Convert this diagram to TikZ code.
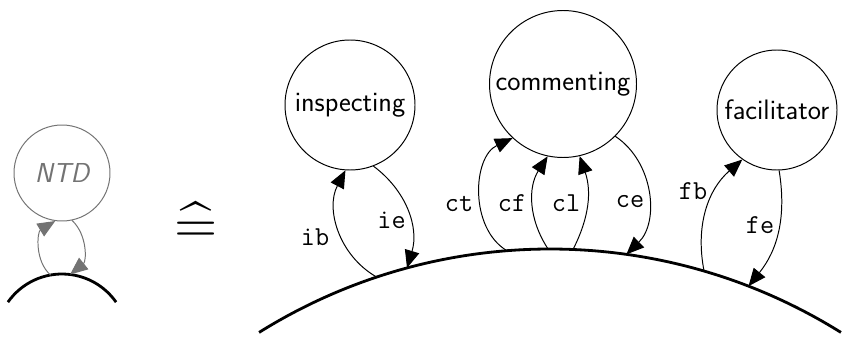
\documentclass[tikz,border=0pt]{standalone}
\usepackage{fontspec}
\usepackage{graphicx}
\usepackage{tikz}
\usetikzlibrary{arrows.meta,positioning,calc}

\definecolor{ntdgray}{gray}{0.45}
\tikzset{
  state/.style={circle, draw, line width=0.7pt, inner sep=0pt, font=\sffamily\fontsize{20}{24}\selectfont},
  lbl/.style={font=\ttfamily\fontsize{19.5}{23}\selectfont, inner sep=0pt},
  edge/.style={line width=0.7pt, -{Triangle[length=12.5pt,width=10.5pt]}},
  ground/.style={line width=2pt}
}

\begin{document}
\begin{tikzpicture}
\useasboundingbox (0,0) rectangle (21.1,8.45);
% Left: the abstract node on a small piece of ground
\node[state, draw=ntdgray, text=ntdgray, minimum size=2.4cm,
      font=\sffamily\itshape\fontsize{19.5}{23}\selectfont] (ntd) at (1.55,4.125) {NTD};
\coordinate (smallc) at (1.55,-0.05);
\draw[ground] ($(smallc)+(145:1.65)$) arc (145:35:1.65);
\coordinate (n-b) at ($(smallc)+(100:1.65)$);
\coordinate (n-e) at ($(smallc)+(83:1.65)$);
\draw[edge, ntdgray] (n-b) to[bend left=54] (ntd.262);
\draw[edge, ntdgray] (ntd.282) to[bend left=49] (n-e);

\node[inner sep=0pt] (eq) at (4.89,2.88) {\scalebox{3.95}{$\widehat{=}$}};

% Right: the three states on the big ground arc
\node[state, minimum size=3.25cm] (insp) at (8.75,5.825) {inspecting};
\node[state, minimum size=3.675cm] (comm) at (14.075,6.35) {commenting};
\node[state, minimum size=3.0cm] (facil) at (19.425,5.7) {facilitator};

\coordinate (bigc) at (13.75,-11.5);
\draw[ground] ($(bigc)+(122:13.725)$) arc (122:58:13.725);
% attachment points on the ground (angle seen from its centre)
\foreach \n/\a in {ib/108.4, ie/105.1, ct/94.5, cf/90.2, cl/87.6, ce/82.0, fb/73.7, fe/68.8}
    \coordinate (s-\n) at ($(bigc)+(\a:13.725)$);

\foreach \from/\to/\b in {s-ib/insp.266/44, insp.291/s-ie/35,
                          s-ct/comm.227/62, s-cf/comm.258/33, s-cl/comm.283/-23, comm.315/s-ce/51,
                          s-fb/facil.235/30, facil.272/s-fe/24}
    \draw[edge] (\from) to[bend left=\b] (\to);

\node[lbl] (l-ib) at (7.875,2.525) {ib};
\node[lbl] (l-ie) at (9.79,2.95) {ie};
\node[lbl] (l-ct) at (11.475,3.35) {ct};
\node[lbl] (l-cf) at (12.8,3.375) {cf};
\node[lbl] (l-cl) at (14.15,3.375) {cl};
\node[lbl] (l-ce) at (15.75,3.4) {ce};
\node[lbl] (l-fb) at (17.325,3.675) {fb};
\node[lbl] (l-fe) at (19.0,2.825) {fe};
\end{tikzpicture}
\end{document}
